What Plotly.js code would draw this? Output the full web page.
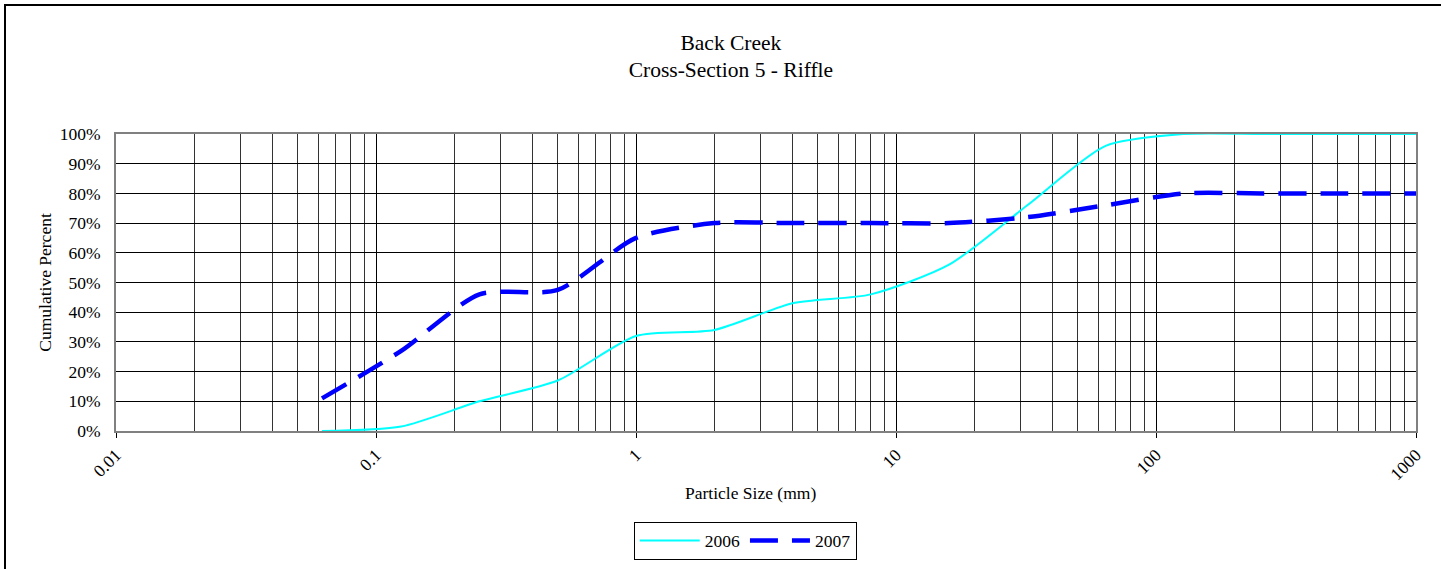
<!DOCTYPE html>
<html>
<head>
<meta charset="utf-8">
<script src="https://cdn.plot.ly/plotly-3.0.1.min.js"></script>
<style>
html,body{margin:0;padding:0;background:#fff;}
#wrap{position:relative;width:1441px;height:569px;overflow:hidden;}
#chart{width:1441px;height:569px;}
#frame{position:absolute;left:4px;top:4px;width:1500px;height:600px;border-top:2px solid #000;border-left:2px solid #000;pointer-events:none;}
</style>
</head>
<body>
<div id="wrap"><div id="chart"></div><div id="frame"></div></div>
<script>
// Particle size classes (mm)
const sizes = [0.062, 0.125, 0.25, 0.5, 1, 2, 4, 8, 16, 32, 64, 128, 256, 512, 1024];
// Cumulative percent (fraction)
const pct2006 = [0.00, 0.015, 0.10, 0.17, 0.32, 0.34, 0.43, 0.46, 0.56, 0.76, 0.96, 1.00, 1.00, 1.00, 1.00];
const pct2007 = [0.11, 0.27, 0.46, 0.475, 0.65, 0.70, 0.70, 0.70, 0.70, 0.72, 0.76, 0.80, 0.80, 0.80, 0.80];
const seriesNames = ['2006', '2007'];
const majorTicks = [0.01, 0.1, 1, 10, 100, 1000];
const majorLabels = ['0.01', '0.1', '1', '10', '100', '1000'];
const minorTicks = [];
for (let d = 0.01; d < 1000; d *= 10) {
  for (let k = 2; k <= 9; k++) minorTicks.push(+(k * d).toPrecision(3));
}
const yTicks = [0,0.1,0.2,0.3,0.4,0.5,0.6,0.7,0.8,0.9,1.0];

const font = 'Liberation Serif, Times New Roman, serif';
const traces = [
  {x: sizes, y: pct2006, name: seriesNames[0], type: 'scatter', mode: 'lines',
   line: {color: '#00FFFF', width: 2, shape: 'spline', smoothing: 0.7}},
  {x: sizes, y: pct2007, name: seriesNames[1], type: 'scatter', mode: 'lines',
   line: {color: '#0000FF', width: 4.5, dash: '28px,14px', shape: 'spline', smoothing: 0.7}}
];
const layout = {
  width: 1441, height: 569,
  margin: {l: 116, r: 25, t: 134, b: 138, autoexpand: false},
  paper_bgcolor: '#fff', plot_bgcolor: '#fff',
  font: {family: font, size: 17.5, color: '#000'},
  title: {text: 'Back Creek<br>Cross-Section 5 - Riffle', font: {family: font, size: 21.5, color: '#000'},
          x: 0.473, xref: 'paper', xanchor: 'center', y: 0.913, yanchor: 'top'},
  xaxis: {type: 'log', range: [-2, 3], tickmode: 'array', tickvals: majorTicks, ticktext: majorLabels,
          tickangle: -45, ticks: 'outside', ticklen: 5, tickcolor: '#000', automargin: false,
          showgrid: true, gridcolor: '#000', gridwidth: 1,
          minor: {tickmode: 'array', tickvals: minorTicks, showgrid: true, gridcolor: '#333', gridwidth: 1, ticks: ''},
          showline: true, linecolor: '#808080', linewidth: 2, mirror: true, zeroline: false,
          tickfont: {family: font, size: 17.5}, fixedrange: true},
  yaxis: {range: [0, 1], tickmode: 'array', tickvals: yTicks, tickformat: '.0%', automargin: false,
          showgrid: true, gridcolor: '#000', gridwidth: 1, ticks: '', ticklabelstandoff: 10,
          showline: true, linecolor: '#808080', linewidth: 2, mirror: true, zeroline: false,
          title: {text: 'Cumulative Percent', font: {family: font, size: 17.5}, standoff: 4},
          tickfont: {family: font, size: 17.5}, fixedrange: true},
  annotations: [{text: 'Particle Size (mm)', xref: 'paper', yref: 'paper', x: 0.488, y: -0.21,
                 xanchor: 'center', yanchor: 'middle', showarrow: false, font: {family: font, size: 17.5}}],
  showlegend: true,
  legend: {orientation: 'h', x: 0.484, xanchor: 'center', y: -0.305, yanchor: 'top',
           bordercolor: '#000', borderwidth: 1, font: {family: font, size: 17.5},
           itemwidth: 60, tracegroupgap: 0}
};
Plotly.newPlot('chart', traces, layout, {displayModeBar: false, staticPlot: true});
</script>
</body>
</html>
